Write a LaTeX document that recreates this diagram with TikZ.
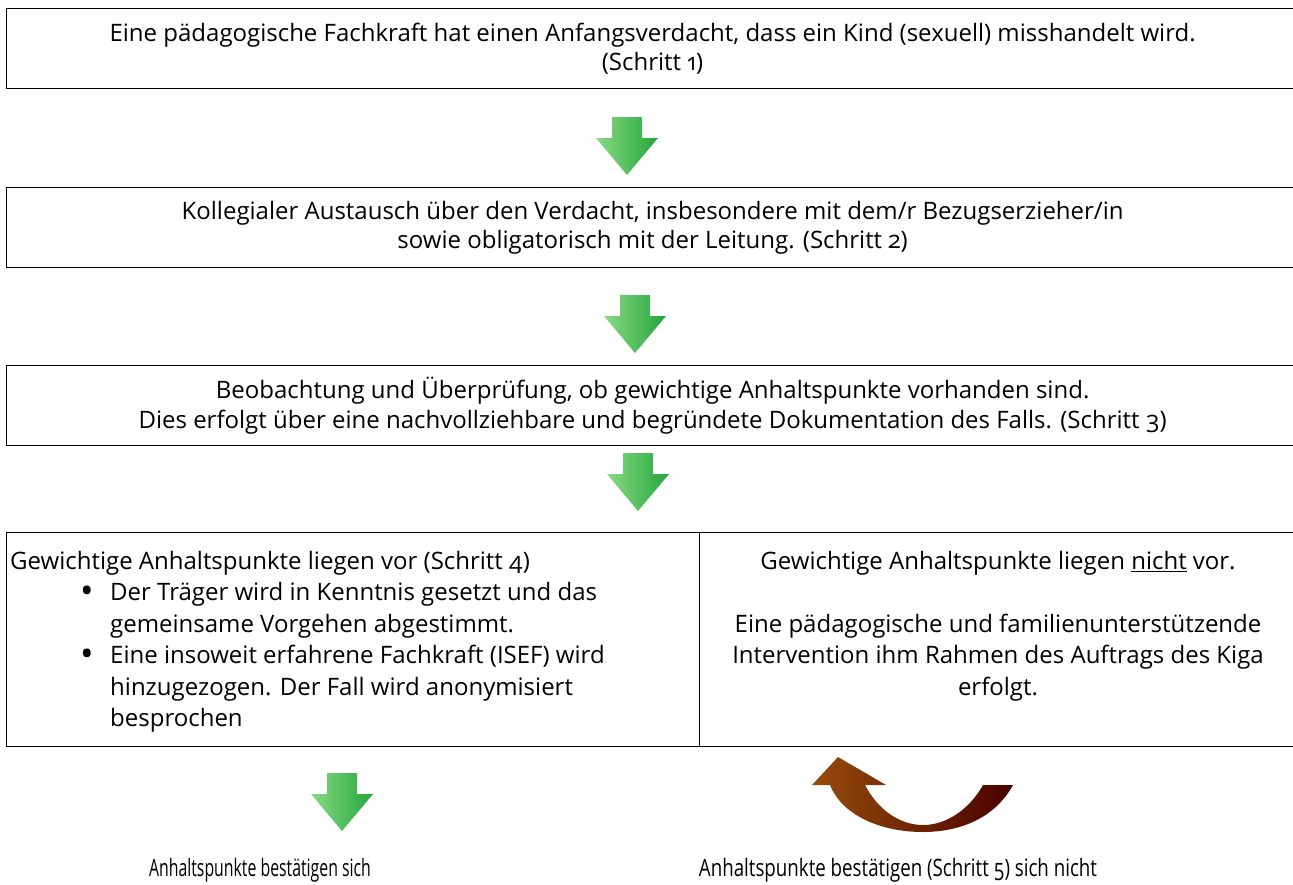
\documentclass[tikz,border=0pt]{standalone}
\usepackage{fontspec}
\setmainfont{Open Sans}[Numbers=OldStyle]
\usetikzlibrary{positioning}

\definecolor{pfeilhell}{RGB}{135,218,130}
\definecolor{pfeildunkel}{RGB}{38,165,62}
\definecolor{bogenhell}{RGB}{150,76,10}
\definecolor{bogendunkel}{RGB}{72,0,0}

\newcommand{\punkt}{\makebox[30pt][l]{\raisebox{-2.5pt}{\scalebox{1.5}{\textbullet}}}}

\tikzset{
    box/.style={draw, line width=1.2pt, minimum width=1292pt, minimum height=80pt,
        anchor=north west, align=center, inner sep=0pt,
        font=\fontsize{24}{29.5}\selectfont},
    zelle/.style={draw, line width=1.2pt, minimum height=214pt, anchor=north west, inner sep=0pt},
    zelltext/.style={inner sep=0pt, font=\fontsize{24}{31.5}\selectfont},
    unten/.style={inner sep=0pt, font=\fontsize{24}{28}\selectfont},
    downarrow/.pic={
        \shade[left color=pfeilhell, right color=pfeildunkel]
            (-15,0) -- (15,0) -- (15,21) -- (31,21) -- (0,58) -- (-31,21) -- (-15,21) -- cycle;
    }
}

\begin{document}
\begin{tikzpicture}[x=1pt, y=-1pt]
    \clip (0,0) rectangle (1293,884);

    % Die drei ersten Schritte
    \node[box] (schritt1) at (6,8) {Eine pädagogische Fachkraft hat einen Anfangsverdacht, dass ein Kind (sexuell) misshandelt wird.\\(Schritt 1)};
    \node[box] (schritt2) at (6,187) {Kollegialer Austausch über den Verdacht, insbesondere mit dem/r Bezugserzieher/in\\sowie obligatorisch mit der Leitung. (Schritt 2)};
    \node[box] (schritt3) at (6,365) {Beobachtung und Überprüfung, ob gewichtige Anhaltspunkte vorhanden sind.\\Dies erfolgt über eine nachvollziehbare und begründete Dokumentation des Falls. (Schritt 3)};

    \pic (pfeil1) at (627,117) {downarrow};
    \pic (pfeil2) at (635,295) {downarrow};
    \pic (pfeil3) at (638,453) {downarrow};

    % Tabelle mit zwei Spalten
    \node[zelle, minimum width=693pt] (liegenvor) at (6,532) {};
    \node[zelle, minimum width=599pt] (nichtvor) at (699,532) {};

    \node[zelltext, anchor=north west, align=left] (textvor) at (10,551) {Gewichtige Anhaltspunkte liegen vor (Schritt 4)\\
        \hspace*{70pt}\punkt Der Träger wird in Kenntnis gesetzt und das\\
        \hspace*{100pt}gemeinsame Vorgehen abgestimmt.\\
        \hspace*{70pt}\punkt Eine insoweit erfahrene Fachkraft (ISEF) wird\\
        \hspace*{100pt}hinzugezogen. Der Fall wird anonymisiert\\
        \hspace*{100pt}besprochen};
    \node[zelltext, anchor=north, align=center] (textnicht) at (998,551) {Gewichtige Anhaltspunkte liegen \underline{nicht} vor.\\[31.5pt]
        Eine pädagogische und familienunterstützende\\
        Intervention ihm Rahmen des Auftrags des Kiga\\
        erfolgt.};

    % Ausgang
    \pic (pfeil4) at (342,773) {downarrow};
    \shade[left color=bogenhell, right color=bogendunkel]
        (1013,785) .. controls (995,818) and (960,832) .. (923,832)
        .. controls (880,832) and (842,815) .. (830,785)
        -- (812,785) -- (838,757) -- (886,785) -- (865,785)
        .. controls (878,810) and (900,825) .. (923,825)
        .. controls (950,825) and (972,805) .. (983,785) -- cycle;

    \node[unten] (bestaetigt) at (260,870) {\scalebox{0.66}[1]{Anhaltspunkte bestätigen sich}};
    \node[unten] (nichtbestaetigt) at (898,870) {\scalebox{0.78}[1]{Anhaltspunkte bestätigen (Schritt 5) sich nicht}};
\end{tikzpicture}
\end{document}
